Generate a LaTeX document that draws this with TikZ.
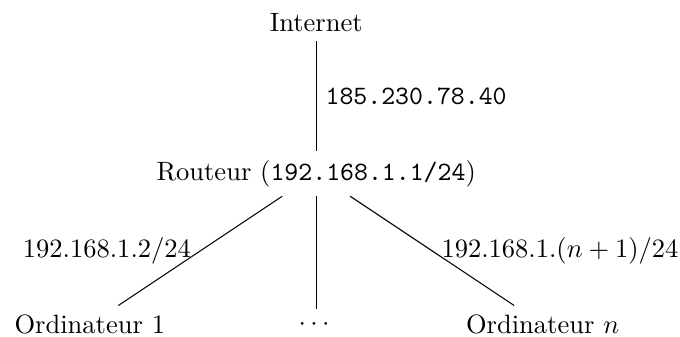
\documentclass[tikz,border=0pt]{standalone}
\usepackage{amsmath,amssymb}
\usepackage{tikz}

\begin{document}
\begin{tikzpicture}[adresse/.style={midway}]
  \useasboundingbox (-4.19,0.30) rectangle (4.82,-4.16);
  \node (inet) at (0,0) {Internet};
  \node (rout) at (0,-2) {Routeur (\texttt{192.168.1.1/24})};
  \node (ord1) at (-3,-4) {Ordinateur 1};
  \node (dots) at (0,-4) {$\cdots$};
  \node (ordn) at (3,-4) {Ordinateur $n$};
  \draw (inet) -- (rout) node[adresse,right] {\texttt{185.230.78.40}};
  \draw (rout) -- (ord1) node[adresse,left] {$192.168.1.2/24$};
  \draw (rout) -- (dots);
  \draw (rout) -- (ordn) node[adresse,right] {$192.168.1.(n+1)/24$};
\end{tikzpicture}
\end{document}
